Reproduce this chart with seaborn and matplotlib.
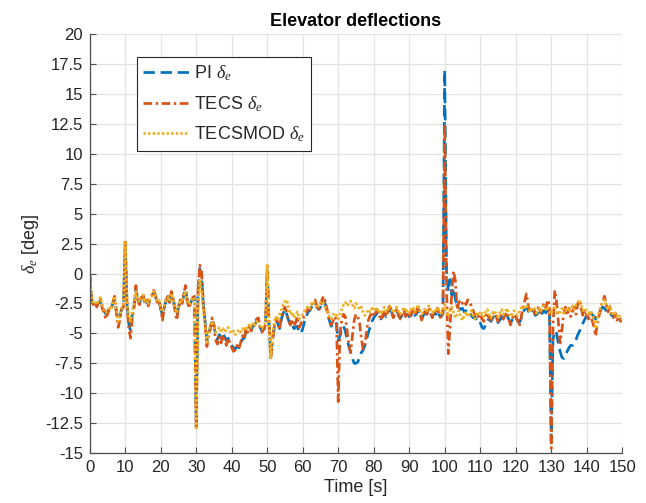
import numpy as np
import pandas as pd
import matplotlib
matplotlib.use("Agg")
import matplotlib.pyplot as plt
from matplotlib.ticker import FixedLocator, FixedFormatter
import seaborn as sns

# Sampling instants of the logged elevator commands [s]
time_s = np.arange(0.0, 150.0 + 0.25, 0.5)

# Elevator deflection, PI controller [deg]
pi_de = [
    0.0, -2.2, -2.6, -2.5, -2.7, -2.4, -2.3, -2.8, -3.0, -3.4, -3.2, -2.9, -3.0, -2.5, -2.1, -3.1, -3.9, -3.6, -2.9, -2.8,
    2.6, -2.5, -4.2, -4.8, -3.4, -2.7, -1.3, -2.2, -2.5, -2.1, -1.9, -2.5, -2.3, -2.6, -2.1, -1.9, -1.6, -1.9, -2.4, -2.3,
    -2.9, -3.5, -2.8, -2.3, -2.0, -2.4, -1.7, -2.1, -2.9, -3.5, -2.8, -2.3, -2.5, -1.8, -1.3, -2.3, -2.7, -2.4, -2.1, -2.0,
    -12.8, -1.8, 0.4, -0.2, -2.6, -4.0, -5.6, -5.0, -4.5, -3.8, -4.3, -5.2, -5.5, -5.1, -5.4, -5.0, -5.3, -5.6, -5.4, -5.7,
    -6.0, -6.2, -6.3, -6.1, -6.2, -5.9, -5.5, -5.4, -4.9, -4.8, -4.6, -4.7, -4.4, -4.3, -4.0, -4.0, -4.5, -4.8, -4.7, -4.4,
    0.3, -4.2, -6.8, -5.5, -4.5, -3.9, -4.2, -4.6, -3.8, -3.3, -3.0, -3.4, -3.9, -4.3, -4.2, -4.6, -4.5, -4.4, -4.9, -5.0,
    -4.6, -4.0, -3.6, -3.2, -3.1, -2.8, -2.6, -2.4, -2.8, -3.0, -2.8, -2.4, -2.3, -2.7, -3.3, -3.9, -4.4, -4.3, -4.0, -4.2,
    -5.6, -5.2, -4.6, -4.4, -4.8, -5.5, -6.1, -6.6, -7.1, -7.5, -7.5, -7.4, -7.0, -6.6, -6.4, -6.0, -5.5, -4.9, -4.5, -4.0,
    -3.7, -3.5, -3.3, -3.5, -3.8, -3.6, -3.3, -3.6, -3.4, -3.0, -3.2, -3.6, -3.4, -3.1, -3.5, -3.7, -3.5, -3.2, -3.5, -3.4,
    -3.6, -3.5, -3.2, -3.5, -3.4, -3.0, -3.3, -3.7, -3.5, -3.2, -3.4, -3.1, -3.3, -3.6, -3.3, -3.4, -3.1, -3.5, -3.6, -3.3,
    17.0, 0.3, -1.5, -0.5, -1.8, -1.2, -2.2, -2.6, -2.8, -3.0, -2.9, -3.2, -3.1, -3.4, -3.3, -3.5, -3.7, -3.6, -3.9, -3.8,
    -4.1, -4.5, -4.6, -4.3, -3.9, -3.8, -4.0, -3.7, -3.6, -3.8, -4.1, -3.9, -3.6, -3.8, -3.7, -3.5, -3.8, -4.1, -3.9, -3.6,
    -3.7, -3.9, -4.1, -3.8, -3.3, -3.0, -2.8, -3.1, -3.4, -3.3, -3.1, -3.5, -3.4, -3.2, -3.5, -3.3, -3.1, -3.3, -3.0, -3.2,
    -14.0, -5.5, -4.8, -5.0, -5.8, -6.5, -7.0, -7.1, -6.8, -6.5, -6.2, -6.0, -6.0, -5.8, -5.5, -5.1, -4.8, -4.5, -4.1, -3.8,
    -3.5, -3.3, -3.1, -3.4, -3.6, -3.8, -3.5, -3.3, -3.0, -2.8, -2.9, -3.1, -3.3, -3.2, -3.5, -3.6, -3.4, -3.7, -3.6, -3.8,
    -3.8,
]

# Elevator deflection, TECS controller [deg]
tecs_de = [
    0.0, -2.0, -2.6, -2.4, -2.8, -2.3, -2.1, -2.9, -3.2, -3.8, -3.4, -3.0, -3.1, -2.4, -1.9, -3.3, -4.5, -3.9, -3.0, -2.8,
    2.8, -2.6, -4.6, -5.4, -3.6, -2.8, -1.0, -2.2, -2.6, -2.0, -1.7, -2.5, -2.2, -2.7, -2.0, -1.8, -1.4, -1.8, -2.4, -2.2,
    -3.0, -3.9, -2.8, -2.2, -1.9, -2.4, -1.5, -2.1, -3.1, -3.9, -2.9, -2.2, -2.5, -1.6, -1.0, -2.3, -2.9, -2.4, -2.0, -1.9,
    -13.0, -1.5, 0.7, 0.2, -2.4, -4.2, -6.1, -5.2, -4.6, -3.7, -4.4, -5.6, -5.9, -5.3, -5.8, -5.1, -5.6, -6.0, -5.4, -5.8,
    -6.2, -6.5, -6.4, -6.0, -6.3, -5.8, -5.2, -5.5, -4.6, -4.9, -4.4, -4.8, -4.3, -4.1, -3.8, -3.7, -4.5, -4.9, -4.6, -4.3,
    0.6, -4.0, -7.2, -5.6, -4.4, -3.7, -4.1, -4.7, -3.6, -3.1, -2.8, -3.3, -3.9, -4.3, -3.8, -4.4, -4.1, -3.6, -4.5, -4.2,
    -3.8, -3.5, -3.3, -2.9, -3.0, -2.6, -2.4, -2.2, -2.8, -3.1, -2.7, -2.1, -1.9, -2.5, -3.2, -3.9, -4.3, -4.0, -3.6, -3.9,
    -10.7, -5.0, -3.9, -3.4, -3.6, -4.8, -6.0, -6.6, -5.2, -3.9, -3.4, -3.6, -4.1, -5.4, -6.3, -6.0, -4.8, -3.9, -3.5, -3.2,
    -3.6, -3.3, -3.0, -3.4, -3.9, -3.5, -3.1, -3.6, -3.2, -2.6, -3.1, -3.7, -3.3, -2.9, -3.5, -3.8, -3.4, -3.0, -3.6, -3.3,
    -3.7, -3.4, -2.9, -3.5, -3.2, -2.7, -3.3, -3.9, -3.5, -3.0, -3.4, -2.8, -3.2, -3.7, -3.1, -3.4, -2.9, -3.5, -3.8, -3.2,
    12.5, -1.0, -6.7, -4.5, -1.5, 0.2, -0.6, -3.0, -2.4, -2.2, -2.5, -2.3, -2.6, -2.2, -2.4, -2.7, -3.1, -3.5, -3.3, -3.6,
    -3.4, -3.8, -4.0, -3.6, -3.3, -3.7, -3.9, -3.4, -3.2, -3.6, -4.0, -3.7, -3.4, -3.8, -3.5, -3.2, -3.7, -4.3, -3.8, -3.4,
    -3.6, -3.9, -4.4, -3.7, -2.9, -2.3, -1.7, -2.6, -3.3, -3.0, -2.8, -3.4, -3.1, -2.7, -3.3, -2.8, -2.5, -2.9, -2.2, -2.6,
    -14.6, -4.5, -1.4, -2.4, -4.0, -5.8, -4.7, -3.4, -2.8, -3.5, -2.9, -3.6, -3.2, -2.8, -3.4, -2.5, -2.2, -3.0, -3.6, -3.1,
    -3.4, -3.8, -3.3, -3.9, -4.4, -5.2, -4.1, -3.5, -2.8, -2.3, -1.9, -2.6, -3.2, -2.8, -3.4, -3.7, -3.3, -3.9, -3.6, -4.0,
    -3.8,
]

# Elevator deflection, modified TECS controller [deg]
tecsmod_de = [
    0.0, -2.1, -2.5, -2.4, -2.6, -2.2, -2.0, -2.6, -3.0, -3.3, -3.1, -2.9, -3.0, -2.3, -1.9, -3.0, -4.0, -3.5, -2.9, -2.7,
    2.7, -2.4, -3.6, -4.0, -3.1, -2.6, -1.5, -2.1, -2.4, -2.0, -1.8, -2.4, -2.2, -2.5, -2.0, -1.9, -1.5, -1.9, -2.3, -2.2,
    -2.8, -3.2, -2.7, -2.2, -2.0, -2.3, -1.7, -2.1, -2.8, -3.3, -2.7, -2.2, -2.4, -1.9, -1.5, -2.2, -2.6, -2.3, -2.1, -2.0,
    -12.9, -2.5, -0.5, -1.5, -3.0, -4.5, -5.9, -5.0, -4.4, -4.0, -4.4, -4.9, -4.7, -4.5, -4.8, -4.6, -4.9, -4.7, -4.5, -4.8,
    -5.0, -4.8, -5.1, -4.9, -4.7, -4.9, -4.6, -4.8, -4.4, -4.6, -4.2, -4.5, -4.1, -4.3, -4.0, -4.2, -4.4, -4.6, -4.3, -4.1,
    0.7, -3.8, -7.0, -5.2, -4.0, -3.6, -3.9, -3.4, -3.0, -2.6, -2.3, -2.2, -2.8, -3.4, -3.2, -3.7, -3.5, -3.2, -3.8, -3.6,
    -3.4, -3.1, -2.9, -2.7, -2.9, -2.5, -2.3, -2.5, -2.9, -2.7, -2.4, -2.3, -2.6, -2.9, -3.2, -3.6, -3.8, -3.5, -3.3, -3.5,
    -3.8, -3.4, -3.0, -2.6, -2.4, -2.7, -2.5, -2.3, -2.6, -2.9, -2.5, -2.7, -3.0, -2.8, -3.2, -3.5, -3.3, -3.0, -3.2, -2.9,
    -3.1, -2.8, -3.2, -3.0, -3.4, -3.1, -2.8, -3.2, -3.0, -2.7, -3.0, -3.3, -3.1, -2.8, -3.2, -3.4, -3.1, -2.8, -3.2, -3.0,
    -3.3, -3.0, -2.8, -3.2, -3.0, -2.6, -3.1, -3.4, -3.2, -2.9, -3.1, -2.7, -3.0, -3.3, -3.0, -3.2, -2.8, -3.1, -3.3, -3.0,
    -2.6, -3.2, -3.6, -3.0, -2.8, -3.3, -3.7, -3.4, -3.1, -3.6, -3.9, -3.5, -3.2, -3.6, -3.4, -3.1, -3.5, -3.8, -3.4, -3.2,
    -3.5, -3.3, -3.6, -3.2, -3.0, -3.4, -3.7, -3.3, -3.1, -3.4, -3.6, -3.3, -3.0, -3.4, -3.2, -2.9, -3.3, -3.6, -3.4, -3.1,
    -3.3, -3.5, -3.2, -2.9, -2.7, -3.0, -2.6, -2.9, -3.2, -3.0, -2.8, -3.1, -3.3, -2.9, -3.1, -2.8, -2.7, -3.0, -2.8, -3.1,
    -3.4, -3.0, -2.7, -3.1, -3.4, -3.2, -2.9, -3.3, -3.1, -2.8, -3.2, -3.0, -2.7, -3.0, -2.6, -2.4, -2.2, -2.7, -3.1, -2.9,
    -3.2, -3.5, -3.1, -3.4, -3.8, -4.6, -3.7, -3.2, -2.7, -2.4, -2.2, -2.6, -3.0, -2.7, -3.2, -3.5, -3.3, -3.6, -3.4, -3.8,
    -3.8,
]

series_names = ["PI", "TECS", "TECSMOD"]
legend_labels = [r"PI $\delta_e$", r"TECS $\delta_e$", r"TECSMOD $\delta_e$"]
series_colors = {"PI": "#0072BD", "TECS": "#D95319", "TECSMOD": "#EDB120"}
series_dashes = {"PI": (4.2, 2.1), "TECS": (3.2, 1.3, 0.9, 1.3), "TECSMOD": (0.9, 0.8)}

x_ticks = list(range(0, 151, 10))
y_ticks = [-15, -12.5, -10, -7.5, -5, -2.5, 0, 2.5, 5, 7.5, 10, 12.5, 15, 17.5, 20]
y_tick_labels = ["-15", "-12.5", "-10", "-7.5", "-5", "-2.5", "0", "2.5", "5",
                 "7.5", "10", "12.5", "15", "17.5", "20"]

frames = []
for name, values in zip(series_names, [pi_de, tecs_de, tecsmod_de]):
    frames.append(pd.DataFrame({"time": time_s, "deflection": values, "controller": name}))
df = pd.concat(frames, ignore_index=True)

sns.set_theme(style="whitegrid")
plt.rcParams["font.family"] = ["Liberation Sans", "DejaVu Sans"]
plt.rcParams["mathtext.fontset"] = "custom"
plt.rcParams["mathtext.it"] = "Liberation Serif:italic"
plt.rcParams["mathtext.rm"] = "Liberation Sans"

fig = plt.figure(figsize=(6.46, 5.03), dpi=100)
fig.patch.set_facecolor("white")
ax = fig.add_axes([0.1389, 0.0992, 0.8243, 0.8330])

sns.lineplot(
    data=df, x="time", y="deflection", hue="controller", style="controller",
    hue_order=series_names, style_order=series_names,
    palette=series_colors, dashes=series_dashes,
    estimator=None, sort=False, linewidth=1.95, legend=False, ax=ax,
)

ax.set_xlim(0, 150)
ax.set_ylim(-15, 20)
ax.xaxis.set_major_locator(FixedLocator(x_ticks))
ax.yaxis.set_major_locator(FixedLocator(y_ticks))
ax.yaxis.set_major_formatter(FixedFormatter(y_tick_labels))

ax.set_facecolor("white")
ax.grid(True, color="#e3e3e3", linewidth=0.9)
for side in ["top", "right"]:
    ax.spines[side].set_visible(False)
for side in ["left", "bottom"]:
    ax.spines[side].set_color("#4d4d4d")
    ax.spines[side].set_linewidth(0.9)

ax.tick_params(axis="both", direction="in", length=4, width=0.8, color="#4d4d4d",
               labelsize=12, labelcolor="#262626", pad=5, left=True, bottom=True)

ax.set_title("Elevator deflections", fontsize=13, fontweight="bold", color="#000000", pad=6)
ax.set_xlabel("Time [s]", fontsize=13, color="#262626", labelpad=3)
ax.set_ylabel(r"$\delta_e$ [deg]", fontsize=13, color="#262626", labelpad=3)

leg = ax.legend(
    ax.lines[:3], legend_labels, loc="upper left", bbox_to_anchor=(0.089, 0.945),
    borderaxespad=0.0, fontsize=13, frameon=True, fancybox=False, framealpha=1.0,
    edgecolor="#262626", handlelength=2.5, handletextpad=0.3, borderpad=0.35,
    labelspacing=0.6,
)
leg.get_frame().set_linewidth(0.8)

fig.savefig("out.png", dpi=100, facecolor="white")
